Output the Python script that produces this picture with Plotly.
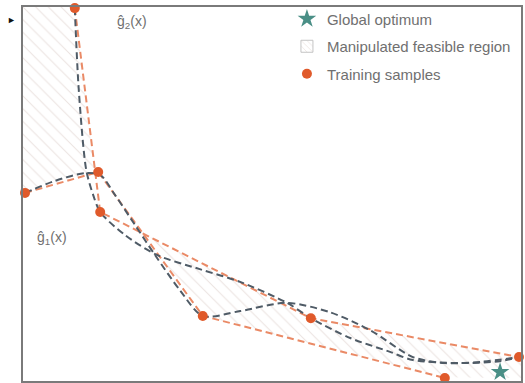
import numpy as np
import plotly.graph_objects as go

# ---- data (axis units 0..10) ----
g1_samples_x = [0.04, 1.51, 3.61, 8.47]
g1_samples_y = [5.03, 5.59, 1.74, 0.08]
g2_samples_x = [1.04, 1.55, 5.78, 9.96]
g2_samples_y = [9.97, 4.52, 1.68, 0.64]

g1_fit_x = [0.04, 0.64, 1.24, 1.55, 1.85, 2.25, 2.65, 3.15, 3.61, 4.36, 5.30, 6.16, 6.97, 7.83, 8.47, 9.18, 9.96]
g1_fit_y = [5.03, 5.35, 5.56, 5.51, 4.97, 4.17, 3.37, 2.43, 1.74, 1.87, 2.09, 1.84, 1.36, 0.64, 0.48, 0.51, 0.64]
g2_fit_x = [1.04, 1.12, 1.27, 1.41, 1.55, 2.05, 2.69, 3.55, 4.36, 5.30, 5.78, 6.57, 7.37, 7.83, 8.78, 9.58, 9.96]
g2_fit_y = [9.97, 7.78, 5.64, 4.97, 4.52, 3.90, 3.37, 2.99, 2.65, 2.09, 1.68, 1.15, 0.78, 0.56, 0.48, 0.53, 0.64]

optimum_x = [9.58]
optimum_y = [0.24]

X_RANGE = [0, 10]
Y_RANGE = [0, 10]

ORANGE = "#e05a2b"
ORANGE_LINE = "#ea8a66"
GREY_LINE = "#4f5b66"
TEAL = "#4a8f86"
TXT = "#707070"
HATCH = "#d8c8c2"

fig = go.Figure()

# ---- hatched feasible region between the two linear surrogates ----
xs = np.linspace(X_RANGE[0], X_RANGE[1], 2001)
L1 = np.interp(xs, g1_samples_x, g1_samples_y)
L2 = np.interp(xs, g2_samples_x, g2_samples_y, left=Y_RANGE[1])
mask = L2 > L1
runs = []
start = None
for i, m in enumerate(mask):
    if m and start is None:
        start = i
    if (not m or i == len(mask) - 1) and start is not None:
        end = i if m else i - 1
        runs.append((start, end))
        start = None
for (a, b) in runs:
    px = np.concatenate([xs[a:b + 1], xs[a:b + 1][::-1]])
    py = np.concatenate([L2[a:b + 1], L1[a:b + 1][::-1]])
    fig.add_trace(go.Scatter(
        x=px, y=py, mode="lines", fill="toself", line=dict(width=0),
        fillcolor="rgba(255,255,255,0)",
        fillpattern=dict(shape="\\", fgcolor=HATCH, bgcolor="rgba(255,255,255,0)", size=9, solidity=0.12),
        showlegend=False, hoverinfo="skip"))

# legend entry for the region (bar legend symbol shows the hatch)
fig.add_trace(go.Bar(
    x=[None], y=[None], name="Manipulated feasible region",
    marker=dict(color="white", line=dict(color="#c4c4c4", width=1),
                pattern=dict(shape="\\", fgcolor=HATCH, bgcolor="white", size=5, solidity=0.2)),
    legendrank=2, legendgroup="b"))

dash = "7px,4px"
# linear surrogates (orange dashed)
fig.add_trace(go.Scatter(x=g1_samples_x, y=g1_samples_y, mode="lines",
                         line=dict(color=ORANGE_LINE, width=2, dash=dash), showlegend=False))
fig.add_trace(go.Scatter(x=g2_samples_x, y=g2_samples_y, mode="lines",
                         line=dict(color=ORANGE_LINE, width=2, dash=dash), showlegend=False))
# smooth fits (grey dashed)
fig.add_trace(go.Scatter(x=g1_fit_x, y=g1_fit_y, mode="lines", line_shape="spline",
                         line=dict(color=GREY_LINE, width=2, dash=dash, smoothing=0.8), showlegend=False))
fig.add_trace(go.Scatter(x=g2_fit_x, y=g2_fit_y, mode="lines", line_shape="spline",
                         line=dict(color=GREY_LINE, width=2, dash=dash, smoothing=0.8), showlegend=False))

# training samples
fig.add_trace(go.Scatter(x=g1_samples_x + g2_samples_x, y=g1_samples_y + g2_samples_y, mode="markers",
                         marker=dict(color=ORANGE, size=10), name="Training samples",
                         cliponaxis=False, legendrank=3, legendgroup="c"))
# global optimum
fig.add_trace(go.Scatter(x=optimum_x, y=optimum_y, mode="markers",
                         marker=dict(color=TEAL, size=14, symbol="star"), name="Global optimum",
                         cliponaxis=False, legendrank=1, legendgroup="a"))

fig.add_annotation(x=2.19, y=9.6, text="ĝ<sub>2</sub>(x)", showarrow=False,
                   font=dict(size=14, color=TXT, family="Liberation Sans"))
fig.add_annotation(x=0.58, y=3.82, text="ĝ<sub>1</sub>(x)", showarrow=False,
                   font=dict(size=14, color=TXT, family="Liberation Sans"))
fig.add_annotation(xref="paper", yref="paper", x=-0.036, y=0.985, text="►", showarrow=False,
                   font=dict(size=9, color="#111"))

fig.update_xaxes(range=X_RANGE, showgrid=False, zeroline=False, showticklabels=False, ticks="",
                 showline=True, mirror=True, linecolor="#7a7a7a", linewidth=2)
fig.update_yaxes(range=Y_RANGE, showgrid=False, zeroline=False, showticklabels=False, ticks="",
                 showline=True, mirror=True, linecolor="#7a7a7a", linewidth=2)

fig.update_layout(
    width=525, height=383,
    margin=dict(l=23, r=4, t=7, b=2),
    plot_bgcolor="white", paper_bgcolor="white",
    font=dict(family="Liberation Sans", size=15, color=TXT),
    legend=dict(x=0.53, y=1.012, xanchor="left", yanchor="top", bgcolor="rgba(0,0,0,0)",
                traceorder="grouped", tracegroupgap=5, font=dict(size=15, color=TXT)),
)

fig.write_html("out.html", config={"displayModeBar": False},
               post_script="document.body.style.margin='0px';")
